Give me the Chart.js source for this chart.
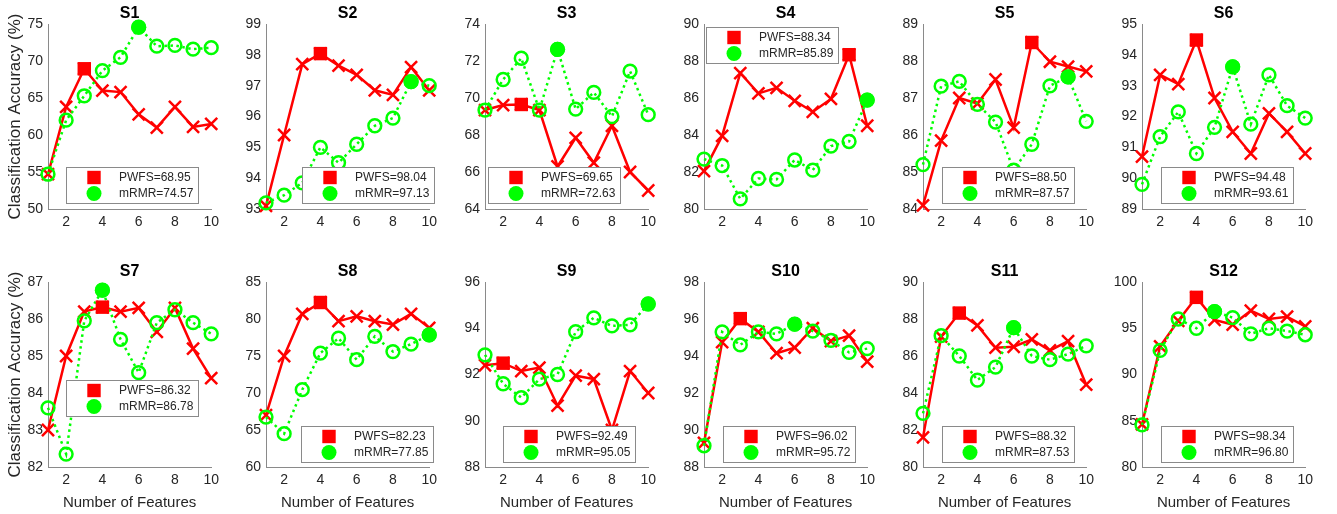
<!DOCTYPE html>
<html>
<head>
<meta charset="utf-8">
<script src="https://cdn.jsdelivr.net/npm/chart.js@4.4.1/dist/chart.umd.min.js"></script>
<style>
  body { margin: 0; background: #fff; }
  #fig { position: relative; width: 1337px; height: 514px; overflow: hidden; }
  #fig canvas { position: absolute; }
</style>
</head>
<body>
<div id="fig"></div>
<script>
// data
const subjects = ['S1', 'S2', 'S3', 'S4', 'S5', 'S6', 'S7', 'S8', 'S9', 'S10', 'S11', 'S12'];
const numFeatures = [1, 2, 3, 4, 5, 6, 7, 8, 9, 10];
const xTicks = [2, 4, 6, 8, 10];

const pwfs = [
  [54.7, 63.8, 68.95, 66.0, 65.8, 62.8, 61.0, 63.8, 61.1, 61.5],
  [93.1, 95.4, 97.7, 98.04, 97.65, 97.35, 96.85, 96.7, 97.6, 96.85],
  [69.35, 69.62, 69.65, 69.35, 66.3, 67.85, 66.5, 68.5, 66.0, 65.0],
  [82.05, 83.95, 87.35, 86.25, 86.55, 85.85, 85.25, 85.95, 88.34, 84.5],
  [84.1, 85.85, 87.0, 86.85, 87.5, 86.2, 88.5, 87.98, 87.85, 87.72],
  [90.7, 93.35, 93.05, 94.48, 92.6, 91.5, 90.8, 92.1, 91.5, 90.8],
  [83.0, 85.0, 86.2, 86.32, 86.2, 86.3, 85.65, 86.3, 85.2, 84.4],
  [67.0, 75.0, 80.7, 82.23, 79.7, 80.35, 79.7, 79.25, 80.7, 78.8],
  [92.4, 92.49, 92.15, 92.3, 90.65, 91.95, 91.8, 89.6, 92.15, 91.2],
  [89.3, 94.75, 96.02, 95.3, 94.15, 94.45, 95.5, 94.8, 95.1, 93.7],
  [81.6, 87.05, 88.32, 87.65, 86.45, 86.5, 86.9, 86.3, 86.8, 84.45],
  [84.6, 93.05, 95.8, 98.34, 95.9, 95.4, 96.9, 96.0, 96.25, 95.2]
];
const mrmr = [
  [54.7, 62.0, 65.3, 68.7, 70.5, 74.57, 72.0, 72.1, 71.6, 71.8],
  [93.2, 93.45, 93.85, 95.0, 94.5, 95.1, 95.7, 95.95, 97.13, 97.0],
  [69.35, 71.0, 72.15, 69.35, 72.63, 69.4, 70.3, 69.0, 71.45, 69.1],
  [82.7, 82.35, 80.55, 81.65, 81.6, 82.65, 82.1, 83.4, 83.65, 85.89],
  [85.2, 87.32, 87.45, 86.83, 86.35, 85.05, 85.75, 87.33, 87.57, 86.37],
  [89.8, 91.35, 92.15, 90.8, 91.65, 93.61, 91.75, 93.35, 92.35, 91.95],
  [83.6, 82.35, 85.95, 86.78, 85.45, 84.55, 85.9, 86.25, 85.9, 85.6],
  [66.75, 64.5, 70.45, 75.4, 77.4, 74.5, 77.65, 75.6, 76.6, 77.85],
  [92.85, 91.6, 91.0, 91.8, 92.0, 93.85, 94.45, 94.1, 94.15, 95.05],
  [89.15, 95.3, 94.6, 95.3, 95.2, 95.72, 95.35, 94.85, 94.2, 94.4],
  [82.9, 87.1, 86.0, 84.7, 85.4, 87.53, 86.0, 85.8, 86.1, 86.55],
  [84.55, 92.6, 96.0, 95.0, 96.8, 96.15, 94.4, 95.0, 94.7, 94.3]
];
const yMin = [50, 93, 64, 80, 84, 89, 82, 60, 88, 88, 80, 80];
const yMax = [75, 99, 74, 90, 89, 95, 87, 85, 96, 98, 90, 100];
const yStep = [5, 1, 2, 2, 1, 1, 1, 5, 2, 2, 2, 5];

// layout of the 2x6 grid (px)
const colLeft = [48, 266, 485, 704, 923, 1142];
const rowTop = [24, 282];
const plotW = 166, plotH = 185;
const padL = 48, padT = 24, padR = 10;
// legend box offset from the top-left of each plot area
const legendAt = [[18, 143], [36, 143], [3, 143], [1.5, 3], [19, 143], [19, 143],
                  [18, 98], [35, 144], [18, 144], [19, 144], [19, 144], [19, 144]];

const RED = '#ff0000';
const GREEN = '#00ff00';
const AXIS = '#8a8a8a';
const TEXT = '#262626';
const FONT = '"Liberation Sans", Arial, Helvetica, sans-serif';

Chart.defaults.font.family = FONT;
Chart.defaults.color = TEXT;

function argMax(arr) {
  let k = 0;
  arr.forEach((v, i) => { if (v > arr[k]) k = i; });
  return k;
}

// title above each panel and MATLAB-like legend inside it
const panelDecor = {
  id: 'panelDecor',
  afterDatasetsDraw(chart, args, opts) {
    const {ctx, chartArea} = chart;
    const i = opts.index;
    ctx.save();
    ctx.fillStyle = '#000';
    ctx.font = 'bold 16px ' + FONT;
    ctx.textAlign = 'center';
    ctx.textBaseline = 'middle';
    ctx.fillText(subjects[i], (chartArea.left + chartArea.right) / 2, chartArea.top - 10);

    const labels = [
      'PWFS=' + Math.max(...pwfs[i]).toFixed(2),
      'mRMR=' + Math.max(...mrmr[i]).toFixed(2)
    ];
    ctx.font = '12px ' + FONT;
    const tw = Math.max(...labels.map(t => ctx.measureText(t).width));
    const x = Math.round(chartArea.left + legendAt[i][0]);
    const y = Math.round(chartArea.top + legendAt[i][1]);
    const w = Math.round(53 + tw + 5), h = 36;
    ctx.fillStyle = '#fff';
    ctx.fillRect(x, y, w, h);
    ctx.strokeStyle = AXIS;
    ctx.lineWidth = 1;
    ctx.strokeRect(x + 0.5, y + 0.5, w, h);

    ctx.fillStyle = RED;
    ctx.fillRect(x + 28 - 6.7, y + 10.5 - 6.7, 13.4, 13.4);
    ctx.fillStyle = GREEN;
    ctx.beginPath();
    ctx.arc(x + 28, y + 26.5, 7.5, 0, Math.PI * 2);
    ctx.fill();

    ctx.fillStyle = TEXT;
    ctx.textAlign = 'left';
    ctx.fillText(labels[0], x + 53, y + 10.5);
    ctx.fillText(labels[1], x + 53, y + 26.5);
    ctx.restore();
  }
};

const fig = document.getElementById('fig');

subjects.forEach((name, i) => {
  const col = i % 6, row = Math.floor(i / 6);
  const padB = row === 1 ? 48 : 30;
  const canvas = document.createElement('canvas');
  const cw = padL + plotW + padR, ch = padT + plotH + padB;
  canvas.width = cw;
  canvas.height = ch;
  canvas.style.width = cw + 'px';
  canvas.style.height = ch + 'px';
  canvas.style.left = (colLeft[col] - padL) + 'px';
  canvas.style.top = (rowTop[row] - padT) + 'px';
  fig.appendChild(canvas);

  const bestP = argMax(pwfs[i]);
  const bestM = argMax(mrmr[i]);
  const pts = arr => numFeatures.map((n, k) => ({x: n, y: arr[k]}));
  const only = (arr, b) => numFeatures.map((n, k) => ({x: n, y: k === b ? arr[k] : null}));

  new Chart(canvas, {
    type: 'line',
    data: {
      datasets: [
        {
          label: 'PWFS best', data: only(pwfs[i], bestP), showLine: false, order: 0, clip: false,
          pointStyle: 'rect', pointRadius: 9.5, pointBackgroundColor: RED, pointBorderWidth: 0
        },
        {
          label: 'mRMR best', data: only(mrmr[i], bestM), showLine: false, order: 1, clip: false,
          pointStyle: 'circle', pointRadius: 7.5, pointBackgroundColor: GREEN, pointBorderWidth: 0
        },
        {
          label: 'mRMR', data: pts(mrmr[i]), order: 2, clip: false,
          borderColor: GREEN, borderWidth: 2.5, borderDash: [2.5, 3.5],
          pointStyle: 'circle', pointRadius: 6.4, pointBorderWidth: 2.5,
          pointBorderColor: GREEN, pointBackgroundColor: 'rgba(0,0,0,0)'
        },
        {
          label: 'PWFS', data: pts(pwfs[i]), order: 3, clip: false,
          borderColor: RED, borderWidth: 2.5,
          pointStyle: 'crossRot', pointRadius: 8.5, pointBorderWidth: 2.5,
          pointBorderColor: RED, pointBackgroundColor: RED
        }
      ]
    },
    options: {
      responsive: false,
      animation: false,
      devicePixelRatio: 1,
      events: [],
      layout: { padding: { left: 0, top: padT, right: padR, bottom: 0 } },
      plugins: {
        legend: { display: false },
        tooltip: { enabled: false },
        title: { display: false },
        panelDecor: { index: i }
      },
      scales: {
        x: {
          type: 'linear',
          min: 1,
          max: 10,
          afterBuildTicks: s => { s.ticks = xTicks.map(v => ({value: v})); },
          afterFit: s => { s.height = padB; },
          grid: { display: false, drawTicks: false },
          border: { display: true, color: AXIS, width: 1 },
          ticks: { autoSkip: false, maxRotation: 0, padding: 5, color: TEXT, font: { size: 14 } },
          title: {
            display: row === 1,
            text: 'Number of Features',
            color: TEXT,
            font: { size: 15 },
            padding: { top: 0, bottom: 3 }
          }
        },
        y: {
          min: yMin[i],
          max: yMax[i],
          afterFit: s => { s.width = padL; },
          grid: { display: false, drawTicks: false },
          border: { display: true, color: AXIS, width: 1 },
          ticks: { stepSize: yStep[i], padding: 5, color: TEXT, font: { size: 14 } },
          title: {
            display: col === 0,
            text: 'Classification Accuracy (%)',
            color: TEXT,
            font: { size: 17 },
            padding: { top: 5, bottom: 0 }
          }
        }
      }
    },
    plugins: [panelDecor]
  });
});
</script>
</body>
</html>
